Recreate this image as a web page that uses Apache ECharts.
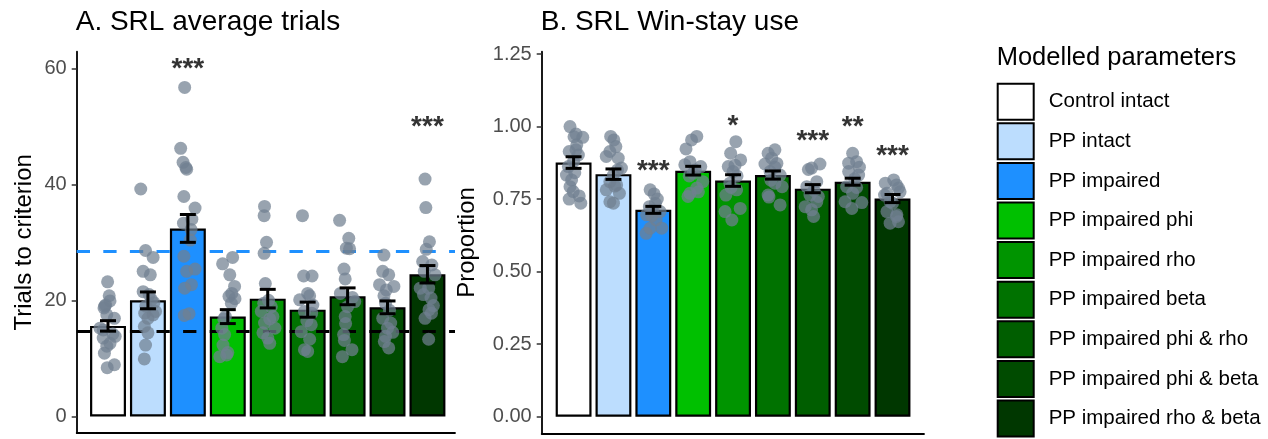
<!DOCTYPE html>
<html><head><meta charset="utf-8">
<script src="https://cdn.jsdelivr.net/npm/echarts@6/dist/echarts.min.js"></script>
<style>html,body{margin:0;padding:0;background:#fff}#c{width:1268px;height:439px}</style>
</head><body><div id="c"></div><script>
// ---------- DATA ----------
const groups = ['Control intact','PP intact','PP impaired','PP impaired phi','PP impaired rho','PP impaired beta','PP impaired phi & rho','PP impaired phi & beta','PP impaired rho & beta'];
const groupColors = ['#FFFFFF','#BCDDFE','#1E90FF','#00C000','#009400','#007200','#005E00','#004B00','#003700'];

const trialsMean = [15.6,20.0,32.4,17.2,20.3,18.4,20.7,18.8,24.5];
const trialsSE   = [0.9,1.45,2.4,1.2,1.6,1.3,1.45,1.1,1.5];
const trialsRefBlue = 28.5;
const trialsRefBlack = 14.6;
const trialsTicks = [0,20,40,60];
const trialsSig  = ['','','***','','','','','','***'];
const trialsSigY = [0,0,59.8,0,0,0,0,0,49.9];

const trialsPts = [
 [23.2,20.8,19.9,19.2,18.7,17.5,16.9,15.2,14.9,13.8,13.5,12.6,12.1,10.9,8.9,8.4,19.0,14.2],
 [39.2,28.6,27.4,25.0,24.4,21.5,20.1,18.1,17.8,16.9,15.5,14.4,12.3,9.9,21.0,19.0,17.5,19.6],
 [56.7,46.2,43.8,42.9,42.6,37.9,35.9,33.3,32.2,30.4,27.6,25.0,25.4,22.7,22.1,17.7,17.4,34.0],
 [27.4,26.3,24.4,22.4,20.7,20.3,19.5,17.2,14.1,12.3,11.0,10.3,10.6,16.8,15.2,21.2],
 [36.2,34.6,30.0,28.1,22.9,18.9,18.1,17.2,16.1,15.2,14.4,12.6,20.0,19.5,16.8,13.5],
 [34.6,24.2,24.2,21.2,20.1,19.2,18.1,15.8,14.6,13.3,11.5,11.2,17.8,20.8,16.5],
 [33.8,30.7,29.0,28.9,25.4,23.7,21.2,19.8,18.9,17.2,14.1,13.1,11.5,10.3,20.5,16.0],
 [27.8,25.0,24.4,22.7,22.4,21.8,20.8,16.9,16.1,14.5,12.9,11.8,18.3,19.5,15.2,13.8],
 [40.9,36.0,30.1,28.8,26.7,26.1,24.4,22.1,22.1,20.4,19.1,18.4,16.9,13.3,25.0,21.0,17.8]
];
const trialsJit = [
 [-0.01,0.03,0.05,-0.06,-0.10,-0.03,0.16,-0.20,-0.12,0.18,-0.12,0.05,-0.03,-0.09,0.16,-0.02,-0.08,0.12],
 [-0.18,-0.06,0.13,-0.12,0.06,-0.12,0.09,0.19,-0.08,0.00,-0.09,0.00,-0.06,-0.09,0.03,-0.05,0.13,0.15],
 [-0.08,-0.18,-0.12,-0.05,-0.03,-0.10,0.18,-0.11,0.08,0.06,-0.10,-0.03,0.18,0.09,-0.08,0.03,-0.09,0.10],
 [0.12,-0.13,0.05,0.17,0.03,0.18,0.09,-0.06,-0.08,-0.12,0.00,-0.20,-0.03,-0.10,-0.15,0.10],
 [-0.08,-0.09,-0.03,-0.09,-0.06,0.09,-0.16,0.13,-0.08,0.18,-0.12,0.05,0.02,-0.10,0.05,0.00],
 [-0.13,-0.10,0.11,0.00,-0.20,0.13,-0.08,0.09,-0.16,0.05,-0.08,0.00,0.10,0.05,-0.02],
 [-0.20,0.03,-0.03,0.05,-0.09,-0.06,-0.18,0.18,0.00,-0.06,-0.10,-0.08,0.11,-0.13,0.12,-0.05],
 [-0.09,-0.12,0.03,-0.20,0.16,-0.03,-0.09,-0.12,0.08,0.13,-0.08,0.03,0.05,-0.05,0.00,-0.05],
 [-0.06,-0.04,0.05,-0.03,-0.12,0.11,0.19,-0.18,0.03,0.09,0.15,0.04,-0.06,0.03,-0.08,-0.10,0.10]
];

const winMean = [0.876,0.836,0.713,0.848,0.814,0.833,0.786,0.810,0.752];
const winSE   = [0.020,0.018,0.012,0.015,0.020,0.014,0.014,0.012,0.014];
const winTicks = [0,0.25,0.5,0.75,1.0,1.25];
const winSig  = ['','','***','','*','','***','**','***'];
const winSigY = [0,0,0.847,0,1.002,0,0.949,0.999,0.898];

const winPts = [
 [1.000,0.974,0.963,0.965,0.920,0.914,0.902,0.862,0.833,0.841,0.816,0.793,0.776,0.761,0.750,0.736,0.937,0.880],
 [0.966,0.954,0.931,0.914,0.891,0.897,0.857,0.833,0.810,0.799,0.782,0.770,0.741,0.736,0.850,0.795],
 [0.782,0.768,0.750,0.724,0.707,0.692,0.678,0.650,0.632,0.650,0.735,0.710,0.696],
 [0.966,0.954,0.923,0.879,0.868,0.862,0.839,0.810,0.788,0.770,0.775,0.759,0.850,0.830],
 [0.948,0.908,0.885,0.862,0.867,0.845,0.805,0.782,0.764,0.718,0.707,0.678,0.830,0.790],
 [0.920,0.908,0.891,0.871,0.873,0.845,0.833,0.805,0.764,0.793,0.730,0.757,0.815,0.860],
 [0.871,0.857,0.852,0.810,0.793,0.764,0.759,0.724,0.713,0.690,0.780,0.740],
 [0.908,0.879,0.874,0.860,0.845,0.833,0.793,0.790,0.741,0.738,0.718,0.820,0.770],
 [0.805,0.816,0.788,0.770,0.775,0.741,0.707,0.696,0.667,0.672,0.799,0.764,0.736,0.690]
];
const winJit = [
 [-0.09,0.06,0.23,0.01,0.06,-0.11,0.12,-0.13,-0.18,0.03,-0.05,-0.09,-0.01,0.14,-0.11,0.18,0.08,0.00],
 [-0.07,0.01,0.06,-0.09,0.12,-0.18,0.20,0.00,-0.09,0.08,-0.18,0.15,-0.09,0.00,0.10,0.03],
 [-0.08,0.02,0.10,-0.10,0.17,-0.04,0.07,0.21,-0.18,-0.08,0.05,-0.02,-0.17],
 [0.09,-0.04,-0.18,-0.08,-0.21,0.19,0.00,0.24,0.09,-0.08,0.13,-0.13,0.05,-0.10],
 [0.07,-0.06,0.19,-0.12,0.05,0.00,-0.08,0.09,-0.18,0.18,-0.20,-0.03,0.10,-0.05],
 [0.05,-0.12,-0.03,-0.20,0.10,-0.07,0.18,0.05,-0.12,0.23,0.18,-0.10,-0.05,0.05],
 [0.18,-0.03,-0.11,0.10,-0.15,-0.07,0.14,-0.19,-0.03,0.02,0.03,0.10],
 [0.00,0.10,-0.10,0.17,-0.10,0.15,-0.15,0.10,-0.19,0.23,-0.02,0.05,0.00],
 [-0.18,0.03,0.15,-0.14,0.19,-0.06,-0.14,0.11,-0.06,0.15,0.10,-0.20,0.00,0.10]
];

// ---------- LAYOUT ----------
const FONT = '"Liberation Sans", Arial, sans-serif';
const gA = {left:76.7, top:51.7, width:378.3, height:381.3};
const gB = {left:541.7, top:51.7, width:382.3, height:381.6};
const xA = [0.216, 9.69], yA = [-2.86, 62.86];
const xB = [0.2, 9.79], yB = [-0.057, 1.258];
const bwA = 0.9 * gA.width / (xA[1]-xA[0]);
const bwB = 0.9 * gB.width / (xB[1]-xB[0]);

const chart = echarts.init(document.getElementById('c'), null, {renderer:'canvas'});

function barData(means){ return means.map((m,i)=>({value:[i+1,m], itemStyle:{color:groupColors[i]}})); }
function ptData(pts,jit){ const out=[]; pts.forEach((arr,i)=>arr.forEach((v,k)=>out.push([i+1+jit[i][k], v]))); return out; }
function errData(means,se){ return means.map((m,i)=>[i+1, m-se[i], m+se[i]]); }
function sigData(sig,sy){ const out=[]; sig.forEach((s,i)=>{ if(s) out.push([i+1, sy[i], s]); }); return out; }
function errRender(params, api){
  const x=api.value(0), lo=api.value(1), hi=api.value(2);
  const a=api.coord([x,lo]), b=api.coord([x,hi]);
  const hw=api.size([0.4,0])[0]/2;
  const st={stroke:'#000', lineWidth:3};
  return {type:'group', children:[
    {type:'line', shape:{x1:a[0],y1:a[1],x2:b[0],y2:b[1]}, style:st},
    {type:'line', shape:{x1:a[0]-hw,y1:a[1],x2:a[0]+hw,y2:a[1]}, style:st},
    {type:'line', shape:{x1:b[0]-hw,y1:b[1],x2:b[0]+hw,y2:b[1]}, style:st}
  ]};
}
function xAxisCfg(idx, ext){
  return {type:'value', gridIndex:idx, min:ext[0], max:ext[1], axisLabel:{show:false}, axisTick:{show:false}, splitLine:{show:false},
    axisLine:{show:true, onZero:false, lineStyle:{color:'#000', width:1.8}}};
}
function yAxisCfg(idx, ext, ticks, fmt, name, gap){
  return {type:'value', gridIndex:idx, min:ext[0], max:ext[1], splitLine:{show:false},
    axisLine:{show:true, onZero:false, lineStyle:{color:'#000', width:1.8}},
    axisTick:{show:true, length:5, customValues:ticks, lineStyle:{color:'#333', width:1.5}},
    axisLabel:{show:true, customValues:ticks, margin:10, color:'#4D4D4D', fontSize:20, fontFamily:FONT, formatter:fmt},
    name:name, nameLocation:'middle', nameRotate:90, nameGap:gap,
    nameTextStyle:{fontSize:24, color:'#000', fontFamily:FONT}};
}
const ptStyle = {color:'rgba(112,128,144,0.72)', opacity:1};
const starLabel = {show:true, position:'inside', formatter:p=>p.value[2], fontSize:28, fontWeight:'bold', color:'#000', fontFamily:FONT};

const series = [
  {type:'bar', xAxisIndex:0, yAxisIndex:0, barWidth:bwA, data:barData(trialsMean), itemStyle:{borderColor:'#000', borderWidth:2.2}, z:1, silent:true},
  {type:'scatter', xAxisIndex:0, yAxisIndex:0, data:[], z:2, silent:true,
    markLine:{silent:true, symbol:['none','none'], z:2, label:{show:false}, animation:false,
      data:[{yAxis:trialsRefBlue, lineStyle:{color:'#1E90FF', width:3, type:[13.3,13.3]}},
            {yAxis:trialsRefBlack, lineStyle:{color:'#000', width:3, type:[13.3,13.3]}}]}},
  {type:'scatter', xAxisIndex:0, yAxisIndex:0, data:ptData(trialsPts,trialsJit), symbolSize:13, itemStyle:ptStyle, z:3, silent:true},
  {type:'custom', xAxisIndex:0, yAxisIndex:0, data:errData(trialsMean,trialsSE), renderItem:errRender, z:4, silent:true},
  {type:'scatter', xAxisIndex:0, yAxisIndex:0, data:sigData(trialsSig,trialsSigY), symbolSize:1, itemStyle:{color:'rgba(0,0,0,0)'}, label:starLabel, z:5, silent:true},

  {type:'bar', xAxisIndex:1, yAxisIndex:1, barWidth:bwB, data:barData(winMean), itemStyle:{borderColor:'#000', borderWidth:2.2}, z:1, silent:true},
  {type:'scatter', xAxisIndex:1, yAxisIndex:1, data:ptData(winPts,winJit), symbolSize:13, itemStyle:ptStyle, z:3, silent:true},
  {type:'custom', xAxisIndex:1, yAxisIndex:1, data:errData(winMean,winSE), renderItem:errRender, z:4, silent:true},
  {type:'scatter', xAxisIndex:1, yAxisIndex:1, data:sigData(winSig,winSigY), symbolSize:1, itemStyle:{color:'rgba(0,0,0,0)'}, label:starLabel, z:5, silent:true}
];
groups.forEach((g,i)=>series.push({type:'scatter', name:g, xAxisIndex:0, yAxisIndex:0, data:[],
  itemStyle:{color:groupColors[i], borderColor:'#000', borderWidth:1.6, opacity:1}}));

chart.setOption({
  animation:false,
  backgroundColor:'#fff',
  textStyle:{fontFamily:FONT},
  title:[
    {text:'A. SRL average trials', left:gA.left-1, top:8, padding:0, textStyle:{fontSize:28, fontWeight:'normal', color:'#000', fontFamily:FONT}},
    {text:'B. SRL Win-stay use', left:gB.left-1, top:8, padding:0, textStyle:{fontSize:28, fontWeight:'normal', color:'#000', fontFamily:FONT}},
    {text:'Modelled parameters', left:996.7, top:45, padding:0, textStyle:{fontSize:25.5, fontWeight:'normal', color:'#000', fontFamily:FONT}}
  ],
  legend:{orient:'vertical', left:996.7, top:82.7, height:420, padding:0, itemWidth:36, itemHeight:36, itemGap:1.6, icon:'rect', selectedMode:false,
    data:groups, itemStyle:{opacity:1}, textStyle:{fontSize:20.5, color:'#000', fontFamily:FONT, padding:[0,0,0,10]}},
  grid:[gA, gB],
  xAxis:[xAxisCfg(0,xA), xAxisCfg(1,xB)],
  yAxis:[yAxisCfg(0,yA,trialsTicks,v=>String(v),'Trials to criterion',40),
         yAxisCfg(1,yB,winTicks,v=>v.toFixed(2),'Proportion',62)],
  series:series
});
</script></body></html>
